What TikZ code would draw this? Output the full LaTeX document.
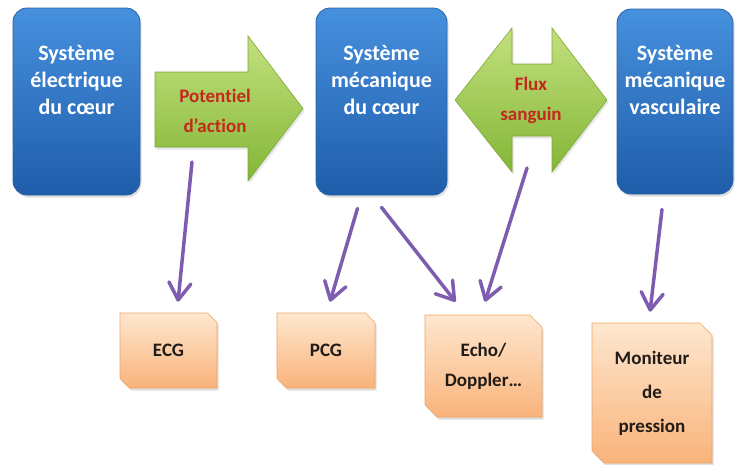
\documentclass[tikz,border=0pt]{standalone}
\usepackage{fontspec}
\setmainfont{Carlito}[Ligatures=NoCommon]
\usetikzlibrary{arrows.meta,positioning,shapes.misc,shadows,calc}
\definecolor{bluetop}{HTML}{4690DE}
\definecolor{bluebot}{HTML}{1F5DAA}
\definecolor{blueedge}{HTML}{2A62A6}
\definecolor{greentop}{HTML}{C2E07E}
\definecolor{greenbot}{HTML}{84B636}
\definecolor{greenedge}{HTML}{7BAA36}
\definecolor{flowred}{HTML}{C4281C}
\definecolor{orangetop}{HTML}{FEE7CF}
\definecolor{orangebot}{HTML}{F9B37A}
\definecolor{orangeedge}{HTML}{EFA464}
\definecolor{linkpurple}{HTML}{7E5CB0}
\definecolor{ink}{HTML}{221C18}
\tikzset{
  sysbox/.style={draw=blueedge,line width=0.8pt,rounded corners=14pt,
                 top color=bluetop,bottom color=bluebot,
                 drop shadow={shadow xshift=1.5pt,shadow yshift=-2.5pt,opacity=0.25}},
  systext/.style={text=white,align=center,
                  font=\fontsize{22}{27}\selectfont\bfseries},
  flowarrow/.style={draw=greenedge,line width=0.6pt,
                    top color=greentop,bottom color=greenbot,
                    drop shadow={shadow xshift=1.5pt,shadow yshift=-2.5pt,opacity=0.2}},
  flowtext/.style={text=flowred,align=center,
                   font=\fontsize{19}{30}\selectfont\bfseries},
  measure/.style={chamfered rectangle,
                  chamfered rectangle corners={north east,south west},
                  chamfered rectangle xsep=9pt,
                  draw=orangeedge,line width=0.6pt,
                  top color=orangetop,bottom color=orangebot,
                  drop shadow={shadow xshift=1.5pt,shadow yshift=-2.5pt,opacity=0.25},
                  text=ink,align=center,inner sep=0pt,
                  font=\fontsize{19}{30}\selectfont\bfseries},
  link/.style={-{Straight Barb[length=17pt,width=22pt,round]},
               line width=3.5pt,draw=linkpurple,line cap=round}
}
\begin{document}
\begin{tikzpicture}[x=1pt,y=-1pt]
  \path[use as bounding box,fill=white] (0,0) rectangle (735,464);

  \node[sysbox,minimum width=127pt,minimum height=187pt] (elec) at (76.5,101.5) {};
  \node[sysbox,minimum width=131pt,minimum height=187pt] (meca) at (381.5,101.5) {};
  \node[sysbox,minimum width=116pt,minimum height=185pt] (vasc) at (675,101.5) {};
  \node[systext] (electext) at (76.5,80) {Système\\électrique\\du cœur};
  \node[systext] (mecatext) at (381.5,80) {Système\\mécanique\\du cœur};
  \node[systext] (vasctext) at (675,80) {Système\\mécanique\\vasculaire};

  \path[flowarrow] (155,72) -- (248,72) -- (248,36) -- (303,108.5)
    -- (248,181) -- (248,147) -- (155,147) -- cycle;
  \path[flowarrow] (455,100) -- (512,28) -- (512,64) -- (552,64) -- (552,28)
    -- (607,100) -- (552,172) -- (552,136) -- (512,136) -- (512,172) -- cycle;
  \node[flowtext] (potentiel) at (215,111) {Potentiel\\d’action};
  \node[flowtext] (flux) at (531,100) {Flux\\sanguin};

  \node[measure,minimum width=97pt,minimum height=75pt] (ecg) at (168.5,350.5) {ECG};
  \node[measure,minimum width=98pt,minimum height=75pt] (pcg) at (326,350.5) {PCG};
  \node[measure,minimum width=117pt,minimum height=102pt] (echo) at (483.5,366)
    {Echo/\\Doppler…};
  \node[measure,minimum width=120pt,minimum height=140pt,
        font=\fontsize{19}{34}\selectfont\bfseries] (moniteur) at (652,393)
    {Moniteur\\de\\pression};

  \draw[link] ([xshift=-23pt,yshift=-51pt]potentiel.center)
    -- ([xshift=9.5pt,yshift=11pt]ecg.north);
  \draw[link] ([xshift=-24pt,yshift=-13pt]meca.south)
    -- ([xshift=4pt,yshift=11pt]pcg.north);
  \draw[link] ([yshift=-12pt]meca.south)
    -- ([xshift=-28pt,yshift=13pt]echo.north);
  \draw[link] ([xshift=-4pt,yshift=-68pt]flux.center)
    -- ([xshift=1.5pt,yshift=13pt]echo.north);
  \draw[link] ([xshift=-13pt,yshift=-15pt]vasc.south)
    -- ([xshift=-2pt,yshift=11pt]moniteur.north);
\end{tikzpicture}
\end{document}
